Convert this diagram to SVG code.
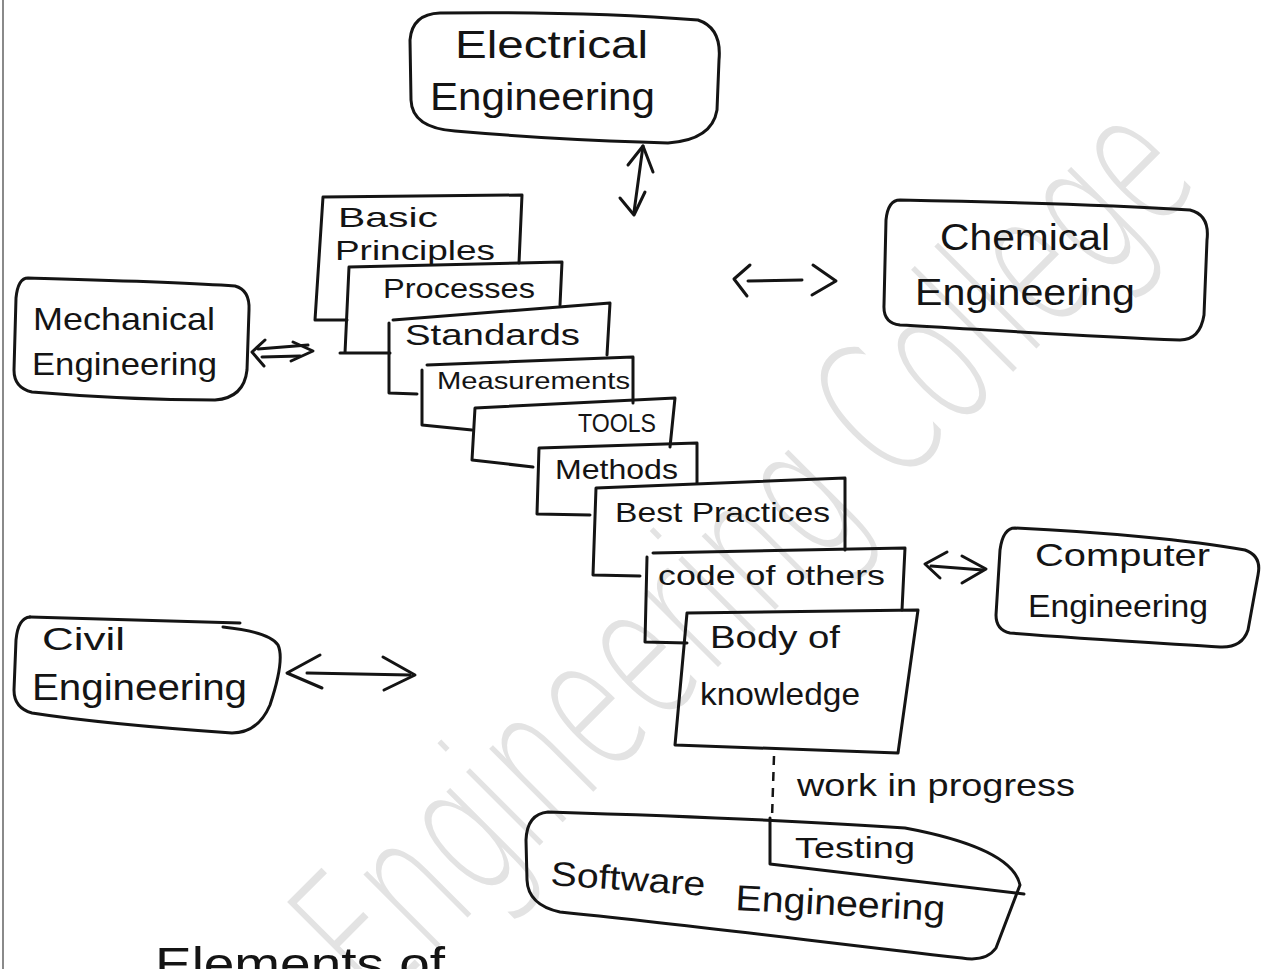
<svg xmlns="http://www.w3.org/2000/svg" width="1271" height="969" viewBox="0 0 1271 969">
  <style>
    .ink { fill: none; stroke: #141414; stroke-width: 3; stroke-linecap: round; stroke-linejoin: round; }
    .dash { fill: none; stroke: #141414; stroke-width: 2.5; stroke-dasharray: 9 7; }
    .lbl { font-family: "Liberation Sans", "DejaVu Sans", sans-serif; fill: #141414; }
    .wm { font-family: "DejaVu Sans", "Open Sans", sans-serif; font-weight: 200; fill: #e3e3e3; }
  </style>

  <rect x="0" y="0" width="1271" height="969" fill="#ffffff"/>
  <!-- page edge -->
  <line x1="3" y1="0" x2="3" y2="969" stroke="#8a8a8a" stroke-width="2"/>

  <!-- faint diagonal watermark -->
  <g id="watermark">
    <text class="wm" x="0" y="0" font-size="190" transform="translate(375 1010) rotate(-45)" textLength="1170" lengthAdjust="spacingAndGlyphs">Engineering College</text>
  </g>

  <!-- surrounding disciplines -->
  <g id="electrical">
    <path class="ink" d="M440 13 C520 12 620 14 698 20 Q722 28 719 60 L717 110 Q712 140 668 143 L640 142 Q560 140 455 131 Q412 128 411 100 L410 40 Q412 14 440 13 Z"/>
    <text class="lbl" x="455" y="58" font-size="38" textLength="193" lengthAdjust="spacingAndGlyphs">Electrical</text>
    <text class="lbl" x="430" y="110" font-size="38" textLength="225" lengthAdjust="spacingAndGlyphs">Engineering</text>
  </g>

  <g id="chemical">
    <path class="ink" d="M900 200 C1000 202 1110 205 1190 210 Q1210 215 1207 240 L1204 315 Q1200 340 1180 340 C1080 336 990 330 900 325 Q883 323 884 305 L886 220 Q888 200 900 200 Z"/>
    <text class="lbl" x="940" y="250" font-size="36" textLength="170" lengthAdjust="spacingAndGlyphs">Chemical</text>
    <text class="lbl" x="915" y="305" font-size="36" textLength="220" lengthAdjust="spacingAndGlyphs">Engineering</text>
  </g>

  <g id="mechanical">
    <path class="ink" d="M28 278 C100 280 180 282 235 286 Q250 290 249 310 L247 370 Q244 398 215 400 C150 400 80 396 32 392 Q14 388 14 370 L16 298 Q18 278 28 278 Z"/>
    <text class="lbl" x="33" y="330" font-size="32" textLength="182" lengthAdjust="spacingAndGlyphs">Mechanical</text>
    <text class="lbl" x="32" y="375" font-size="32" textLength="185" lengthAdjust="spacingAndGlyphs">Engineering</text>
  </g>

  <g id="civil">
    <path class="ink" d="M30 617 C110 619 180 621 240 623"/>
    <path class="ink" d="M223 627 Q270 632 278 645 Q285 660 270 705 Q258 733 232 733 C160 728 90 722 32 713 Q14 708 14 690 L16 640 Q18 618 30 617"/>
    <text class="lbl" x="42" y="650" font-size="32" textLength="83" lengthAdjust="spacingAndGlyphs">Civil</text>
    <text class="lbl" x="32" y="700" font-size="36" textLength="215" lengthAdjust="spacingAndGlyphs">Engineering</text>
  </g>

  <g id="computer">
    <path class="ink" d="M1015 528 C1100 532 1190 540 1245 550 Q1262 556 1258 575 L1248 630 Q1242 648 1220 647 C1140 642 1070 638 1010 633 Q996 630 996 615 L1000 550 Q1003 528 1015 528 Z"/>
    <text class="lbl" x="1035" y="566" font-size="32" textLength="175" lengthAdjust="spacingAndGlyphs">Computer</text>
    <text class="lbl" x="1028" y="617" font-size="32" textLength="180" lengthAdjust="spacingAndGlyphs">Engineering</text>
  </g>

  <!-- staircase of knowledge layers -->
  <g id="basic-principles">
    <path class="ink" d="M347 320 L315 320 L323 197 L522 195 L519 263"/>
    <text class="lbl" x="338" y="227" font-size="28" textLength="100" lengthAdjust="spacingAndGlyphs">Basic</text>
    <text class="lbl" x="335" y="260" font-size="28" textLength="160" lengthAdjust="spacingAndGlyphs">Principles</text>
  </g>
  <g id="processes">
    <path class="ink" d="M390 353 L340 353 L345 353 L349 267 L562 262 L560 305"/>
    <text class="lbl" x="383" y="298" font-size="28" textLength="152" lengthAdjust="spacingAndGlyphs">Processes</text>
  </g>
  <g id="standards">
    <path class="ink" d="M417 394 L389 393 L389 323 M393 320 L610 303 L607 355"/>
    <text class="lbl" x="405" y="345" font-size="30" textLength="175" lengthAdjust="spacingAndGlyphs">Standards</text>
  </g>
  <g id="measurements">
    <path class="ink" d="M472 430 L422 425 L422 370 M427 365 L633 357 L633 403"/>
    <text class="lbl" x="437" y="389" font-size="24" textLength="193" lengthAdjust="spacingAndGlyphs">Measurements</text>
  </g>
  <g id="tools">
    <path class="ink" d="M533 467 L472 460 L475 408 L675 398 L670 447"/>
    <text class="lbl" x="578" y="432" font-size="26" textLength="78" lengthAdjust="spacingAndGlyphs">TOOLS</text>
  </g>
  <g id="methods">
    <path class="ink" d="M590 515 L537 514 L539 448 L697 443 L697 483"/>
    <text class="lbl" x="555" y="479" font-size="28" textLength="123" lengthAdjust="spacingAndGlyphs">Methods</text>
  </g>
  <g id="best-practices">
    <path class="ink" d="M640 576 L593 575 L596 488 L845 478 L845 550"/>
    <text class="lbl" x="615" y="522" font-size="28" textLength="215" lengthAdjust="spacingAndGlyphs">Best Practices</text>
  </g>
  <g id="code-of-others">
    <path class="ink" d="M687 643 L645 642 L647 557 M653 553 L905 548 L902 610"/>
    <text class="lbl" x="658" y="585" font-size="28" textLength="227" lengthAdjust="spacingAndGlyphs">code of others</text>
  </g>
  <g id="body-of-knowledge">
    <path class="ink" d="M687 613 L918 610 L898 753 L675 745 Z"/>
    <text class="lbl" x="710" y="648" font-size="32" textLength="130" lengthAdjust="spacingAndGlyphs">Body of</text>
    <text class="lbl" x="700" y="705" font-size="32" textLength="160" lengthAdjust="spacingAndGlyphs">knowledge</text>
  </g>

  <g id="software">
    <path class="ink" d="M548 812 C680 816 820 822 905 828 Q1012 848 1020 885 L996 948 Q986 962 962 958 C820 942 690 925 560 912 Q528 905 527 880 L526 840 Q527 814 548 812 Z"/>
    <path class="ink" d="M770 818 L770 864 L1024 894"/>
    <text class="lbl" x="795" y="858" font-size="30" textLength="120" lengthAdjust="spacingAndGlyphs">Testing</text>
    <text class="lbl" x="550" y="885" font-size="34" textLength="155" lengthAdjust="spacingAndGlyphs" transform="rotate(4 550 885)">Software</text>
    <text class="lbl" x="735" y="910" font-size="36" textLength="210" lengthAdjust="spacingAndGlyphs" transform="rotate(3 735 910)">Engineering</text>
  </g>

  <g id="work-in-progress">
    <text class="lbl" x="797" y="796" font-size="32" textLength="278" lengthAdjust="spacingAndGlyphs">work in progress</text>
  </g>

  <!-- links between the layers and the disciplines -->
  <g id="connectors">
    <!-- electrical -->
    <path class="ink" d="M643 146 L634 212"/>
    <path class="ink" d="M628 165 L643 146 L653 172"/>
    <path class="ink" d="M620 198 L634 215 L645 192"/>
    <!-- chemical -->
    <path class="ink" d="M750 265 L734 279 L747 296"/>
    <path class="ink" d="M748 281 L802 280"/>
    <path class="ink" d="M813 265 L836 281 L812 295"/>
    <!-- mechanical -->
    <path class="ink" d="M265 340 L252 352 L264 366"/>
    <path class="ink" d="M258 349 L308 345"/>
    <path class="ink" d="M262 357 L300 356"/>
    <path class="ink" d="M293 342 L313 351 L291 361"/>
    <!-- civil -->
    <path class="ink" d="M320 655 L287 673 L322 688"/>
    <path class="ink" d="M307 673 L410 675"/>
    <path class="ink" d="M383 657 L415 675 L384 690"/>
    <!-- computer -->
    <path class="ink" d="M947 552 L925 564 L940 578"/>
    <path class="ink" d="M931 566 L983 570"/>
    <path class="ink" d="M962 556 L986 569 L962 583"/>
    <!-- body of knowledge down to software engineering -->
    <path class="dash" d="M774 756 L772 818"/>
  </g>

  <!-- caption, running off the page edge -->
  <g id="caption">
    <text class="lbl" x="155" y="980" font-size="46" textLength="290" lengthAdjust="spacingAndGlyphs">Elements of</text>
  </g>
</svg>
